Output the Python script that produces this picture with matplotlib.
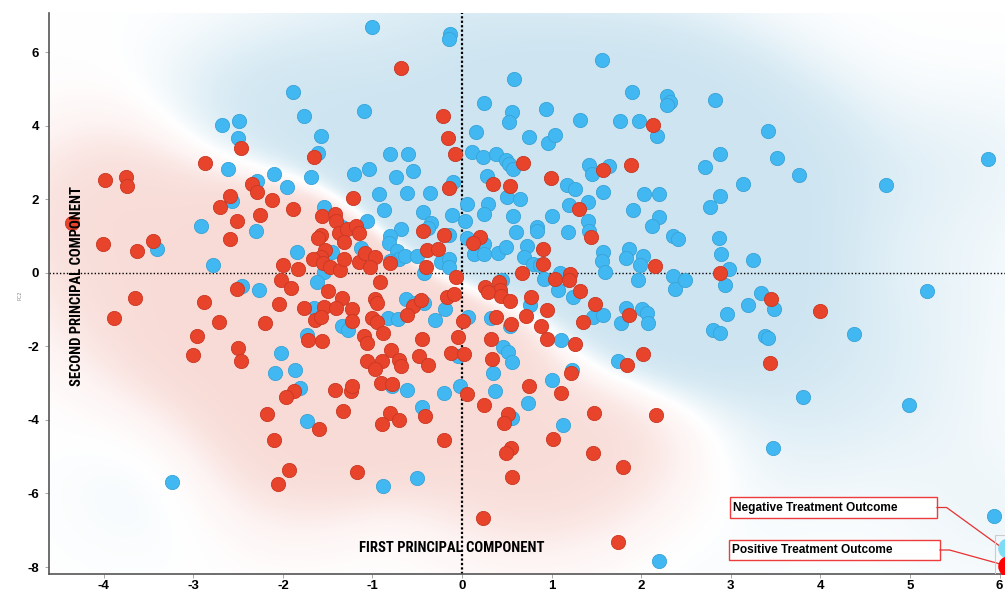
import matplotlib
matplotlib.use("Agg")
import matplotlib.pyplot as plt
import numpy as np
from matplotlib.colors import LinearSegmentedColormap
from matplotlib.patches import Rectangle

# first / second principal component scores, negative treatment outcome
neg_pc1 = [
    -1.89, -1.09, -1.76, -2.68, -2.49, -1.58, -2.50, -1.61, -1.04, -2.61, -2.10, -1.69, -1.21, -2.29, -1.95,
    -2.57, -1.54, -2.91, -2.30, -1.06, -1.34, -3.40, -1.84, -1.45, -1.13, -2.78, -1.54, -1.62, -2.46, -2.27,
    -1.00, -0.13, -0.15, 1.56, 0.58, 1.90, 2.29, 2.32, 2.29, 0.25, 0.94, 0.56, 0.52, 1.32, 1.76, 1.98, 2.18,
    0.16, 0.75, 0.96, 1.04, -0.80, -0.60, 0.11, 0.23, 0.38, 0.49, 0.52, 0.57, 1.42, 1.45, 1.64, -0.55, -0.74,
    0.28, -0.10, 1.17, 1.26, 1.57, 2.03, 2.20, -0.93, -0.61, -0.36, 0.50, 0.65, 0.06, 0.29, 0.25, 1.19, 1.41,
    1.91, 2.20, 2.12, -0.87, -0.44, -0.11, 0.57, 1.00, -0.35, -0.38, -0.68, 0.03, 1.41, 1.42, 0.84, 0.84, 0.60,
    1.18, 2.35, 2.41, -0.80, -0.81, -0.15, 0.06, 0.25, 0.13, 0.25, 0.40, 0.49, 0.73, 0.69, 0.79, 0.87, 1.57,
    1.56, 1.60, 1.86, 1.83, 2.02, 1.99, 2.35, 1.96, -0.73, -0.70, -0.64, -0.50, -0.80, -0.23, -0.15, -0.15,
    -0.42, 0.92, 1.09, 1.07, 0.45, 2.38,
    2.82, 3.42, 2.88, 2.71, 3.52, 3.76, 3.14, 4.73, 5.87, 2.88, 2.77, 2.87, 2.89, 3.25, 2.98, 2.49, 2.94, 3.34,
    5.19, 3.19, 2.96, 3.48, 2.80, 2.88, 3.38, 3.42, 4.38, 3.81, 4.99, 3.47, 5.94,
    -1.65, -1.34, -1.27, -1.73, -2.02, -2.09, -1.86, -1.81, -1.73, -3.24,
    -0.63, -0.52, -0.42, -0.83, -0.71, -0.30, -0.19, 0.07, 0.32, 0.54, 0.76, 1.24, 1.46, 1.57, 1.83, 1.77,
    2.01, 2.06, 2.08, 1.10, 0.46, 0.51, 0.56, 0.35, 0.37, 0.74, 1.00, 1.23, 1.74, 1.13, 0.56, -0.78, -0.61,
    -0.20, -0.02, -0.45, -0.04, -0.50, -0.88, 2.20,
]
neg_pc2 = [
    4.92, 4.40, 4.27, 4.02, 4.13, 3.72, 3.67, 3.26, 2.83, 2.83, 2.69, 2.61, 2.69, 2.50, 2.34,
    1.96, 1.79, 1.28, 1.14, 1.41, 1.25, 0.65, 0.57, 0.57, 0.68, 0.22, 0.03, -0.24, -0.35, -0.46,
    6.68, 6.49, 6.36, 5.79, 5.27, 4.92, 4.81, 4.65, 4.57, 4.62, 4.46, 4.38, 4.10, 4.16, 4.13, 4.13, 3.72,
    3.83, 3.70, 3.53, 3.75, 3.23, 3.23, 3.29, 3.15, 3.23, 3.07, 2.96, 2.83, 2.93, 2.69, 2.91, 2.77, 2.61,
    2.64, 2.47, 2.39, 2.28, 2.20, 2.15, 2.15, 2.15, 2.17, 2.17, 2.07, 2.01, 1.88, 1.88, 1.60, 1.85, 1.93,
    1.71, 1.52, 1.28, 1.71, 1.66, 1.58, 1.55, 1.55, 1.36, 1.22, 1.20, 1.41, 1.41, 1.14, 1.25, 1.14, 1.11,
    1.11, 1.01, 0.92, 1.01, 0.82, 1.03, 0.95, 0.79, 0.52, 0.52, 0.54, 0.71, 0.73, 0.43, 0.24, 0.22, 0.57,
    0.33, 0.03, 0.65, 0.41, 0.46, 0.22, -0.08, -0.19, 0.60, 0.38, 0.46, 0.46, 0.33, 0.30, 0.38, 0.16,
    0.00, -0.16, 0.00, -0.46, -0.19, -0.43,
    4.70, 3.86, 3.23, 2.88, 3.13, 2.66, 2.42, 2.39, 3.10, 2.09, 1.79, 0.95, 0.52, 0.35, 0.11, -0.19, -0.33, -0.54,
    -0.49, -0.87, -1.11, -0.98, -1.55, -1.63, -1.71, -1.77, -1.66, -3.37, -3.59, -4.76, -6.60,
    -0.95, -1.44, -1.55, -1.68, -2.17, -2.72, -2.64, -3.13, -4.02, -5.68,
    -0.71, -0.82, -0.82, -1.22, -1.25, -1.28, -0.98, -1.20, -1.22, -1.44, -0.87, -0.65, -1.20, -1.14, -0.95, -1.36,
    -0.98, -1.09, -1.36, -1.82, -2.01, -2.15, -2.42, -2.72, -3.21, -3.53, -2.91, -2.64, -2.39, -4.13, -3.94, -3.07, -3.18,
    -3.26, -3.07, -3.64, -2.26, -5.57, -5.79, -7.83,
]

# first / second principal component scores, positive treatment outcome
pos_pc1 = [
    -2.47, -2.87, -1.65, -3.98, -3.75, -3.74, -2.35, -2.29, -2.59, -2.70, -2.12, -1.89, -1.22, -2.25, -2.51,
    -1.56, -1.42, -1.41, -4.35, -1.37, -1.28, -1.18, -1.15, -1.58, -1.61, -1.32, -2.59, -4.01, -3.45, -3.63,
    -1.53, -1.57, -1.66, -1.55, -1.47, -1.36, -1.32, -1.15, -1.08, -2.00, -1.83, -2.02, -1.91, -2.51, -1.50,
    -0.68, -0.21, -0.16, -0.08, -0.15, 2.13, 0.68, 1.57, 1.89, 0.99, 0.35, 0.54, 1.31, 1.44, -0.44, -0.20,
    0.20, 0.12, -0.39, -0.27, -0.97, -1.03, -0.80, -0.40, 0.90, 0.90, 0.67, 1.21, 1.19, 1.04, -0.07, -0.92,
    2.15, 0.26, 0.41, 0.42, 1.32,
    2.88, 3.45, 4.00, 3.44,
    -3.65, -3.88, -2.88, -2.71, -2.96, -3.00, -2.50, -2.47, -2.04, -2.20, -1.34, -1.76, -1.54, -1.41, -1.23,
    -1.64, -1.58, -1.23, -1.72, -1.56, -1.10, -1.06, -1.06, -1.42, -1.24, -1.23, -1.88, -1.96, -2.18, -1.33,
    -1.60, -2.10, -1.93, -2.05, -1.17,
    -0.97, -0.95, -0.55, -0.46, -0.61, -0.17, -0.09, -1.00, -0.95, -0.88, -0.45, -0.79, -0.89, -0.97, -0.70,
    -0.68, -0.48, -0.38, -0.90, -0.78, -0.12, -0.04, 0.01, 0.02, 0.06, -0.80, -0.89, -0.70, -0.41, -0.20,
    0.29, 0.44, 0.54, 0.77, 0.55, 0.38, 0.71, 0.95, 0.88, 0.32, 0.33, 0.95, 1.26, 1.48, 1.35, 1.86, 2.02,
    1.84, 1.22, 0.75, 1.10, 0.25, 0.51, 0.47, 1.47, 2.17, 1.02, 1.46, 1.80, 0.55, 0.49, 0.56, 0.23, 1.74,
]
pos_pc2 = [
    3.40, 2.99, 3.15, 2.53, 2.61, 2.36, 2.42, 2.20, 2.09, 1.79, 1.98, 1.74, 2.04, 1.58, 1.41,
    1.55, 1.60, 1.41, 1.36, 1.09, 1.20, 1.28, 1.09, 1.03, 0.95, 0.84, 0.92, 0.79, 0.87, 0.60,
    0.63, 0.43, 0.38, 0.27, 0.16, 0.08, 0.38, 0.30, 0.54, 0.22, 0.11, -0.19, -0.41, -0.43, -0.49,
    5.57, 4.27, 3.67, 3.23, 2.31, 4.02, 2.99, 2.80, 2.93, 2.58, 2.42, 2.36, 1.74, 0.98, 1.14, 1.03,
    0.98, 0.82, 0.63, 0.65, 0.43, 0.16, 0.27, 0.16, 0.65, 0.24, 0.00, -0.03, -0.19, -0.16, -0.11, -0.24,
    0.19, -0.38, -0.24, -0.46, -0.49,
    0.00, -0.71, -1.03, -2.45,
    -0.68, -1.22, -0.79, -1.33, -1.71, -2.23, -2.04, -2.39, -0.84, -1.36, -0.68, -0.95, -0.92, -0.95, -0.98,
    -1.28, -1.20, -1.30, -1.82, -1.85, -1.71, -1.90, -2.39, -3.18, -3.21, -3.07, -3.21, -3.37, -3.83, -3.75,
    -4.24, -4.54, -5.35, -5.73, -5.43,
    -0.71, -0.82, -0.90, -0.73, -1.14, -0.65, -0.57, -1.22, -1.33, -1.63, -1.79, -2.09, -2.39, -2.61, -2.36,
    -2.53, -2.26, -2.50, -2.99, -3.02, -2.17, -1.74, -1.30, -2.20, -3.29, -3.80, -4.10, -3.99, -3.89, -4.54,
    -0.52, -0.63, -0.76, -0.65, -1.39, -1.20, -1.17, -1.01, -1.44, -1.79, -2.34, -1.79, -1.93, -0.84, -1.33, -1.14, -2.20,
    -2.50, -2.72, -3.07, -3.26, -3.59, -3.83, -4.08, -3.80, -3.86, -4.51, -4.89, -5.27, -4.76, -4.89, -5.54, -6.66, -7.31,
]

x_ticks = [-4, -3, -2, -1, 0, 1, 2, 3, 4, 5, 6]
y_ticks = [-8, -6, -4, -2, 0, 2, 4, 6]
legend_labels = ["Negative Treatment Outcome", "Positive Treatment Outcome"]

xlim = (-4.61, 6.06)
ylim = (-8.19, 7.06)

blue = "#41b8f1"
red = "#e8432b"

fig = plt.figure(figsize=(10.05, 5.9), dpi=100)
ax = fig.add_axes([0.0488, 0.0271, 0.9512, 0.9508])

# soft class-density background: blue where negatives dominate, red where positives do
gx = np.linspace(xlim[0], xlim[1], 420)
gy = np.linspace(ylim[0], ylim[1], 320)
GX, GY = np.meshgrid(gx, gy)


def density(px, py, bx=0.8, by=1.5):
    d = np.zeros_like(GX)
    for x, y in zip(px, py):
        d += np.exp(-0.5 * (((GX - x) / bx) ** 2 + ((GY - y) / by) ** 2))
    return d


score = np.tanh(0.3 * (density(neg_pc1, neg_pc2) - density(pos_pc1, pos_pc2)))
bg_cmap = LinearSegmentedColormap.from_list("bg", ["#f8dbd6", "#fdf3f2", "#ffffff", "#e6f2f8", "#cee5f1"])
ax.imshow(score, extent=(xlim[0], xlim[1], ylim[0], ylim[1]), origin="lower",
          cmap=bg_cmap, vmin=-1, vmax=1, aspect="auto", interpolation="bilinear", zorder=0)

ax.axvline(0, color="black", lw=1.6, ls=(0, (1, 1)), zorder=1)
ax.axhline(0, color="black", lw=1.0, ls=(0, (1, 1.5)), zorder=1)

ax.scatter(neg_pc1, neg_pc2, s=105, c=blue, edgecolors="#3aa3d6", linewidths=0.6, zorder=3)
ax.scatter(pos_pc1, pos_pc2, s=105, c=red, edgecolors="#c93823", linewidths=0.6, zorder=3)

ax.set_xlim(*xlim)
ax.set_ylim(*ylim)
ax.set_xticks(x_ticks)
ax.set_yticks(y_ticks)
ax.set_xticklabels([str(t) for t in x_ticks], fontweight="bold", fontsize=9.5, family="Liberation Sans")
ax.set_yticklabels([str(t) for t in y_ticks], fontweight="bold", fontsize=9.5, family="Liberation Sans")
ax.tick_params(axis="both", direction="out", length=3, width=0.6, color="#999999")
ax.tick_params(axis="x", pad=1.5)
ax.tick_params(axis="y", pad=4)

for side in ("top", "right"):
    ax.spines[side].set_visible(False)
for side in ("left", "bottom"):
    ax.spines[side].set_color("#555555")
    ax.spines[side].set_linewidth(1.2)

title_font = dict(family=["Roboto Condensed", "Liberation Sans"], fontweight="bold", fontsize=10.5)
ax.text(0.029, 0.513, "SECOND PRINCIPAL COMPONENT", transform=ax.transAxes, rotation=90,
        ha="center", va="center", zorder=5, **title_font)
ax.text(0.4215, 0.046, "FIRST PRINCIPAL COMPONENT", transform=ax.transAxes,
        ha="center", va="center", zorder=5, **title_font)
fig.text(0.02, 0.5, "PC2", rotation=90, fontsize=3.5, color="#888888", ha="center", va="center")

# legend: boxed labels with leader lines to the class markers
boxes = [(0.7123, 0.0998, 0.2166, 0.0375), (0.7113, 0.0250, 0.2207, 0.0356)]
markers = [(0.998, 0.0464), (0.998, 0.0143)]
marker_colors = ["#7cdcf5", "#ff0000"]
for label, (bx0, by0, bw, bh), (mx, my), mc in zip(legend_labels, boxes, markers, marker_colors):
    ax.add_patch(Rectangle((bx0, by0), bw, bh, transform=ax.transAxes, facecolor="white",
                           edgecolor="#ee3b3b", lw=1.0, zorder=6))
    ax.text(bx0 + 0.003, by0 + bh / 2, label, transform=ax.transAxes, ha="left", va="center",
            fontsize=8.6, fontweight="bold", family="Liberation Sans", zorder=7)
    ax.plot([bx0 + bw, bx0 + bw + 0.01, mx - 0.004], [by0 + bh / 2, by0 + bh / 2, my + 0.004],
            transform=ax.transAxes, color="#e83030", lw=0.9, zorder=6)
    ax.scatter([mx + 0.005], [my], s=190, c=mc, transform=ax.transAxes, zorder=7, clip_on=True)
ax.add_patch(Rectangle((0.990, 0.0), 0.02, 0.07, transform=ax.transAxes, facecolor="none",
                       edgecolor="#cccccc", lw=0.8, zorder=6))

fig.savefig("out.png", dpi=100)
